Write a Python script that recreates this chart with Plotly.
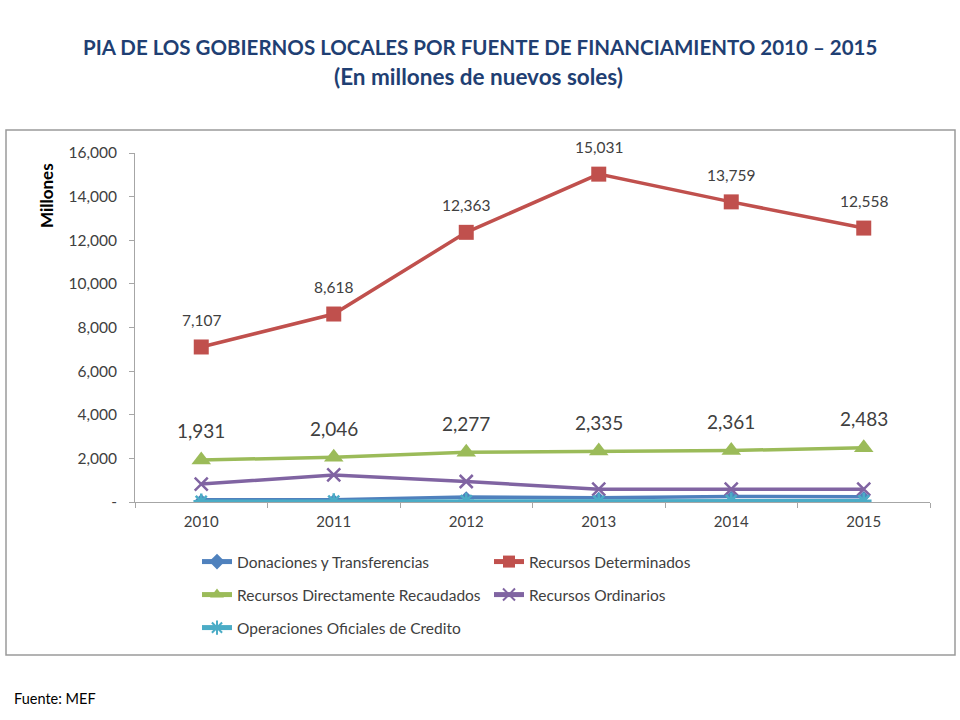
import plotly.graph_objects as go

years = ["2010", "2011", "2012", "2013", "2014", "2015"]
donaciones = [100, 100, 230, 200, 250, 240]
determinados = [7107, 8618, 12363, 15031, 13759, 12558]
directamente = [1931, 2046, 2277, 2335, 2361, 2483]
ordinarios = [820, 1240, 940, 590, 590, 590]
operaciones = [30, 40, 60, 40, 70, 60]

y_tickvals = [0, 2000, 4000, 6000, 8000, 10000, 12000, 14000, 16000]
y_ticktext = ["-", "2,000", "4,000", "6,000", "8,000", "10,000", "12,000", "14,000", "16,000"]

FONT = "Lato"
TXT = "#404040"
TITLE_C = "#1F3F73"

# plot-area pixel frame used to place paper-referenced items
L, R, T, B = 135, 930, 153, 502
W, H = R - L, B - T


def px(x):
    return (x - L) / W


def py(y):
    return (B - y) / H


fig = go.Figure()


def add(name, y, color, symbol, size, legend, mlw=0):
    fig.add_trace(go.Scatter(
        x=years, y=y, name=name, mode="lines+markers",
        line=dict(color=color, width=3.5),
        marker=dict(symbol=symbol, size=size, color=color,
                    line=dict(color=color, width=mlw)),
        legend=legend,
    ))


add("Donaciones y Transferencias", donaciones, "#4F81BD", "diamond", 9, "legend")
add("Recursos Determinados", determinados, "#C0504D", "square", 15, "legend")
add("Recursos Directamente Recaudados", directamente, "#9BBB59", "triangle-up", 17, "legend2")
add("Recursos Ordinarios", ordinarios, "#8064A2", "x-thin", 13, "legend2", mlw=2.5)
add("Operaciones Oficiales de Credito", operaciones, "#4BACC6", "asterisk", 13, "legend3", mlw=2.5)

annotations = []
for i, v in enumerate(determinados):
    annotations.append(dict(x=i, y=v, xref="x", yref="y", text=f"{v:,}",
                            showarrow=False, yshift=27, xanchor="center", yanchor="middle",
                            font=dict(family=FONT, size=15.5, color=TXT)))
for i, v in enumerate(directamente):
    annotations.append(dict(x=i, y=v, xref="x", yref="y", text=f"{v:,}",
                            showarrow=False, yshift=29, xanchor="center", yanchor="middle",
                            font=dict(family=FONT, size=19, color=TXT)))

annotations.append(dict(text="<b>PIA DE LOS GOBIERNOS LOCALES POR FUENTE DE FINANCIAMIENTO 2010 – 2015</b>",
                        xref="paper", yref="paper", x=px(480), y=py(47),
                        xanchor="center", yanchor="middle",
                        showarrow=False, font=dict(family=FONT, size=20.5, color=TITLE_C)))
annotations.append(dict(text="<b>(En millones de nuevos soles)</b>",
                        xref="paper", yref="paper", x=px(478), y=py(76),
                        xanchor="center", yanchor="middle",
                        showarrow=False, font=dict(family=FONT, size=22.5, color=TITLE_C)))
annotations.append(dict(text="Fuente: MEF", xref="paper", yref="paper",
                        x=px(12), y=py(698), xanchor="left", yanchor="middle",
                        showarrow=False, font=dict(family=FONT, size=14.5, color="#000000")))
annotations.append(dict(text="<b>Millones</b>", xref="paper", yref="paper",
                        x=px(46), y=py(196), xanchor="center", yanchor="middle", textangle=-90,
                        showarrow=False, font=dict(family=FONT, size=17, color="#000000")))

legend_common = dict(orientation="h", xref="paper", yref="paper", xanchor="left", yanchor="middle",
                     entrywidth=247, entrywidthmode="pixels", bgcolor="rgba(0,0,0,0)",
                     itemsizing="constant",
                     font=dict(family=FONT, size=15.5, color=TXT), traceorder="normal")
lx = px(197)

fig.update_layout(
    width=960, height=720,
    margin=dict(l=L, r=960 - R, t=T, b=720 - B),
    paper_bgcolor="white", plot_bgcolor="white",
    font=dict(family=FONT, color=TXT),
    showlegend=True,
    legend=dict(**legend_common, x=lx, y=py(562)),
    legend2=dict(**legend_common, x=lx, y=py(595)),
    legend3=dict(**legend_common, x=lx, y=py(628)),
    xaxis=dict(type="category", range=[-0.5, 5.5], showgrid=False, showline=True,
               linecolor="#A6A6A6", linewidth=1, ticks="outside", tickson="boundaries",
               ticklen=5, tickcolor="#A6A6A6", ticklabelstandoff=6,
               tickfont=dict(family=FONT, size=15, color=TXT)),
    yaxis=dict(range=[0, 16000], tickvals=y_tickvals, ticktext=y_ticktext, showgrid=False,
               showline=True, linecolor="#A6A6A6", linewidth=1, ticks="outside", ticklen=5,
               tickcolor="#A6A6A6", zeroline=False, ticklabelstandoff=9,
               tickfont=dict(family=FONT, size=15.5, color=TXT)),
    annotations=annotations,
    shapes=[dict(type="rect", xref="paper", yref="paper",
                 x0=px(6), x1=px(955), y0=py(655), y1=py(130),
                 line=dict(color="#9A9A9A", width=1.5), layer="below")],
)

fig.write_html("out.html", config={"displayModeBar": False},
               post_script="document.body.style.margin='0';document.body.style.overflow='hidden';")
